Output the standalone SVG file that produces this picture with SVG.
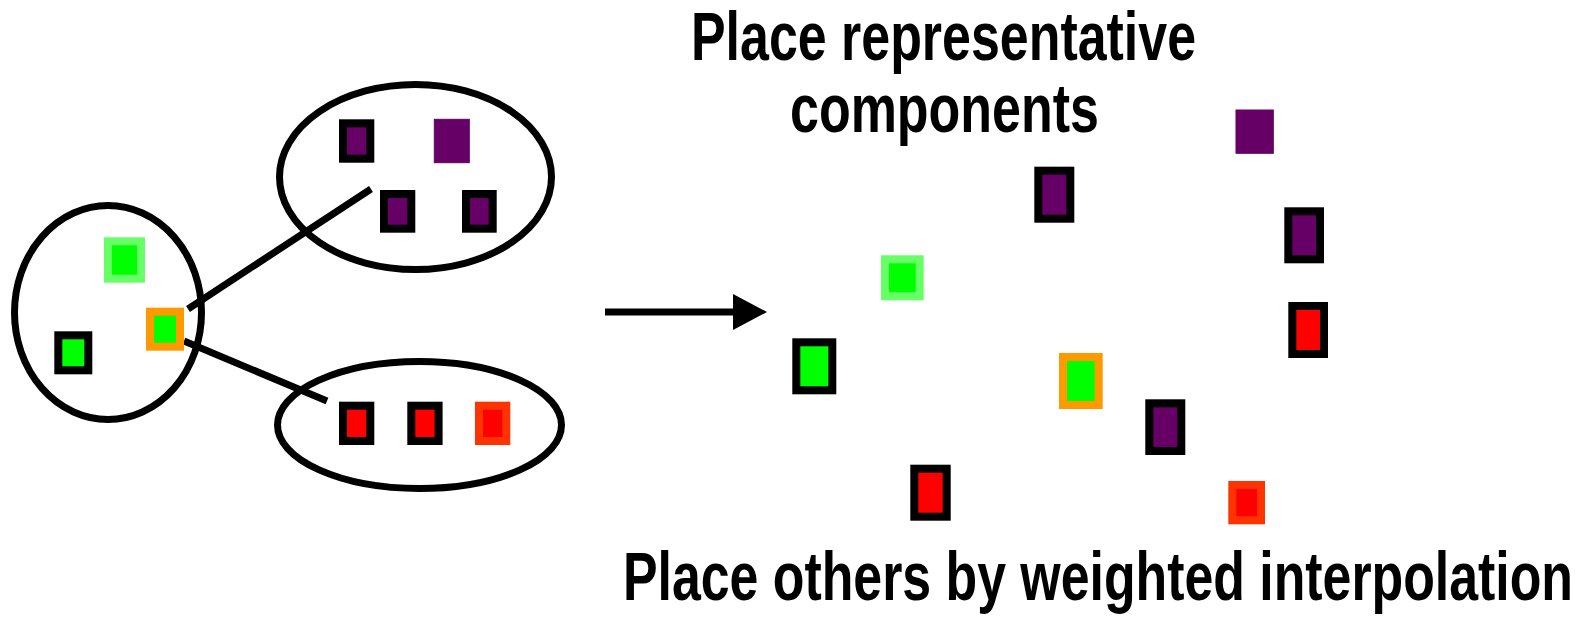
<svg xmlns="http://www.w3.org/2000/svg" width="1592" height="618" viewBox="0 0 1592 618">
  <style>
    .cluster { fill: none; stroke: #000; stroke-width: 7; }
    .link { stroke: #000; stroke-width: 7; fill: none; }
    .blk { stroke: #000; stroke-width: 8; }
    .org { stroke: #FF9900; stroke-width: 8; }
    .lgr { stroke: #66FF66; stroke-width: 8; }
    .ored { stroke: #FF3300; stroke-width: 8; }
    .plain { stroke: #660066; stroke-width: 1; }
    .g { fill: #00FF00; }
    .p { fill: #660066; }
    .r { fill: #FF0000; }
    .label { font-family: "Liberation Sans", Arial, sans-serif; font-weight: bold; font-size: 52px; fill: #000; }
  </style>
  <rect width="1592" height="618" fill="#fff"/>

  <!-- cluster outlines -->
  <g id="clusters">
    <ellipse id="cluster-green" class="cluster" cx="108" cy="312.5" rx="93.5" ry="107"/>
    <ellipse id="cluster-purple" class="cluster" cx="415.5" cy="177" rx="136" ry="92.5"/>
    <ellipse id="cluster-red" class="cluster" cx="419.5" cy="425" rx="142" ry="63.5"/>
  </g>

  <!-- connectors -->
  <g id="connectors">
    <line class="link" x1="188" y1="309" x2="371" y2="189"/>
    <line class="link" x1="184" y1="341" x2="327" y2="401"/>
    <line class="link" x1="605" y1="312" x2="736" y2="312"/>
    <polygon points="733,294 767,312 733,330" fill="#000"/>
  </g>

  <!-- components inside the clusters -->
  <g id="n-left-lg"><rect class="lgr g" x="108" y="241.3" width="33" height="37.4"/></g>
  <g id="n-left-bg"><rect class="blk g" x="58.3" y="335.3" width="30" height="35"/></g>
  <g id="n-left-og"><rect class="org g" x="150" y="311.7" width="30" height="35"/></g>

  <g id="n-top-bp1"><rect class="blk p" x="343" y="123.3" width="27.3" height="35.4"/></g>
  <g id="n-top-pp"><rect class="plain p" x="434.3" y="119.3" width="35" height="43.4"/></g>
  <g id="n-top-bp2"><rect class="blk p" x="384" y="194" width="27.3" height="34.7"/></g>
  <g id="n-top-bp3"><rect class="blk p" x="466" y="194" width="26.7" height="34.7"/></g>

  <g id="n-bot-br1"><rect class="blk r" x="343" y="405.7" width="27.3" height="35.3"/></g>
  <g id="n-bot-br2"><rect class="blk r" x="411.3" y="405.7" width="27.3" height="35.3"/></g>
  <g id="n-bot-or"><rect class="ored r" x="479" y="405.7" width="27.3" height="35.3"/></g>

  <!-- placed layout -->
  <g id="m-lg"><rect class="lgr g" x="885" y="259.3" width="34.7" height="37"/></g>
  <g id="m-bg"><rect class="blk g" x="796.3" y="342.3" width="36" height="48"/></g>
  <g id="m-og"><rect class="org g" x="1063" y="357" width="35.7" height="48"/></g>
  <g id="m-br1"><rect class="blk r" x="914.3" y="468.7" width="32.4" height="48"/></g>
  <g id="m-bp1"><rect class="blk p" x="1038.3" y="170.7" width="32" height="48"/></g>
  <g id="m-pp"><rect class="plain p" x="1236" y="110" width="37.3" height="43.3"/></g>
  <g id="m-bp2"><rect class="blk p" x="1288.3" y="211.3" width="31.7" height="48"/></g>
  <g id="m-br2"><rect class="blk r" x="1292.3" y="306" width="31.7" height="48"/></g>
  <g id="m-bp3"><rect class="blk p" x="1149.3" y="403.3" width="32" height="47.7"/></g>
  <g id="m-or"><rect class="ored r" x="1232.3" y="485" width="28.7" height="35.3"/></g>

  <!-- captions: bold sans, stretched vertically for a condensed look -->
  <g id="captions">
    <text class="label" transform="translate(691,60) scale(1,1.327)" textLength="505" lengthAdjust="spacingAndGlyphs">Place representative</text>
    <text class="label" transform="translate(790,132) scale(1,1.327)" textLength="309" lengthAdjust="spacingAndGlyphs">components</text>
    <text class="label" transform="translate(623,600) scale(1,1.327)" textLength="950" lengthAdjust="spacingAndGlyphs">Place others by weighted interpolation</text>
  </g>
</svg>
